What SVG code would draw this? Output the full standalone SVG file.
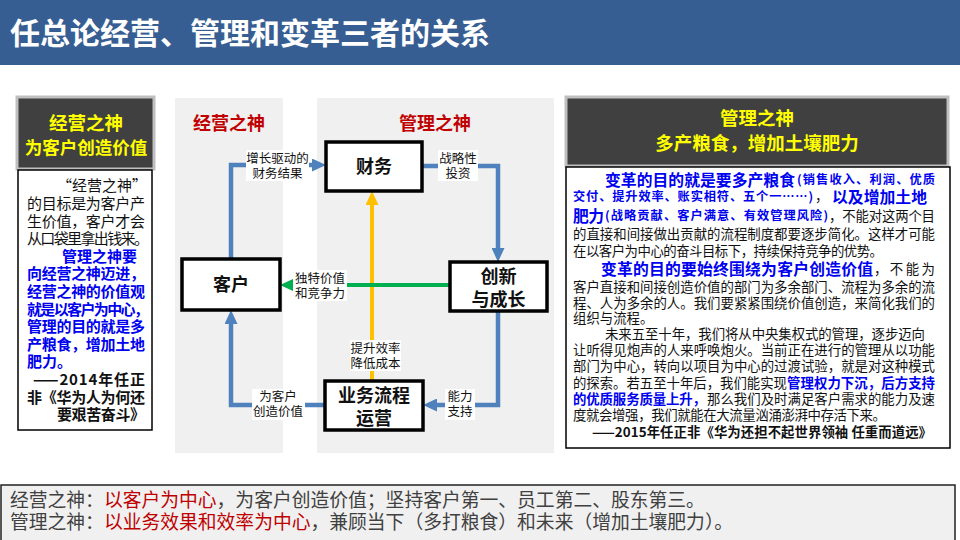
<svg xmlns="http://www.w3.org/2000/svg" width="960" height="540" viewBox="0 0 960 540">
<defs>
<style>
text{font-family:'Noto Sans CJK SC','Microsoft YaHei',sans-serif;}
.lbl{font-size:12.5px;fill:#111;text-anchor:middle;}
.node{font-size:18px;font-weight:bold;fill:#111;text-anchor:middle;}
.box{fill:#fff;stroke:#000;stroke-width:3.5;}
.hd{fill:#404040;stroke:#bfbfbf;stroke-width:3;}
.hdt{font-size:18px;font-weight:bold;fill:#ffff00;text-anchor:middle;}
.lt{font-size:15px;fill:#111;}
.lb{font-size:15px;fill:#0000f0;font-weight:bold;}
.lk{font-size:15px;fill:#111;font-weight:bold;}
.rt{font-size:13.4px;fill:#111;}
.rb{font-size:15.8px;fill:#0000f0;font-weight:bold;}
.rs{font-size:12.2px;fill:#0000f0;font-weight:bold;}
.rbb{font-size:13.4px;fill:#0000f0;font-weight:bold;}
.bt{font-size:18.8px;fill:#404040;}
.red{fill:#c00000;}
.blue{fill:none;stroke:#4f81bd;stroke-width:4.5;}
.lbg{fill:#fff;}
</style>
<marker id="ab" viewBox="0 0 14 13" refX="2" refY="6.5" markerWidth="14" markerHeight="13" markerUnits="userSpaceOnUse" orient="auto"><path d="M0,0 L14,6.5 L0,13 z" fill="#4f81bd"/></marker>
<marker id="ag" viewBox="0 0 14 13" refX="2" refY="6.5" markerWidth="14" markerHeight="13" markerUnits="userSpaceOnUse" orient="auto"><path d="M0,0 L14,6.5 L0,13 z" fill="#00b050"/></marker>
<marker id="ay" viewBox="0 0 14 13" refX="2" refY="6.5" markerWidth="14" markerHeight="13" markerUnits="userSpaceOnUse" orient="auto"><path d="M0,0 L14,6.5 L0,13 z" fill="#ffc000"/></marker>
</defs>
<rect width="960" height="540" fill="#fff"/>
<g id="title">
<rect x="0" y="0" width="960" height="65" fill="#375e92"/>
<text x="10" y="43.5" font-size="30" font-weight="bold" fill="#fff">任总论经营、管理和变革三者的关系</text>
</g>
<g id="left-panel">
<rect class="hd" x="17" y="97" width="137" height="72"/>
<text class="hdt" x="86" y="129.5" style="font-size:18.5px">经营之神</text>
<text class="hdt" x="86" y="154" style="font-size:17.5px">为客户创造价值</text>
<rect x="18" y="170" width="134" height="260" fill="#fff" stroke="#000" stroke-width="1.5"/>
<text class="lt" x="57" y="191.4">“经营之神”</text>
<text class="lt" x="27" y="209" textLength="118">的目标是为客户产</text>
<text class="lt" x="27" y="226.6" textLength="118">生价值，客户才会</text>
<text class="lt" x="27" y="244.2" textLength="122">从口袋里拿出钱来。</text>
<text class="lb" x="62" y="261.8">管理之神要</text>
<text class="lb" x="27" y="279.4" textLength="118">向经营之神迈进，</text>
<text class="lb" x="27" y="297" textLength="118">经营之神的价值观</text>
<text class="lb" x="27" y="314.6" textLength="122">就是以客户为中心，</text>
<text class="lb" x="27" y="332.2" textLength="118">管理的目的就是多</text>
<text class="lb" x="27" y="349.8" textLength="118">产粮食，增加土地</text>
<text class="lb" x="27" y="367.4">肥力。</text>
<text class="lk" x="33" y="385" textLength="112">——2014年任正</text>
<text class="lk" x="27" y="402.6" textLength="118">非《华为人为何还</text>
<text class="lk" x="57" y="420.2" textLength="88">要艰苦奋斗》</text>
</g>
<g id="panels">
<rect x="175" y="98" width="108" height="355" fill="#f0f0f0"/>
<rect x="317" y="98" width="237" height="355" fill="#f0f0f0"/>
<text x="229" y="129.5" font-size="18" font-weight="bold" fill="#c00000" text-anchor="middle">经营之神</text>
<text x="435" y="129.5" font-size="18" font-weight="bold" fill="#c00000" text-anchor="middle">管理之神</text>
</g>
<g id="connectors">
<path d="M372,381 V203" fill="none" stroke="#ffc000" stroke-width="4" marker-end="url(#ay)"/>
<path d="M450,285 H292" fill="none" stroke="#00b050" stroke-width="4" marker-end="url(#ag)"/>
<path class="blue" d="M231,259 V165 H314" marker-end="url(#ab)"/>
<path class="blue" d="M422,166 H498 V250" marker-end="url(#ab)"/>
<path class="blue" d="M498,311 V405 H435" marker-end="url(#ab)"/>
<path class="blue" d="M325,405 H231 V322" marker-end="url(#ab)"/>
<rect class="lbg" x="246" y="150" width="63" height="31"/>
<text class="lbl" x="277.5" y="162.5">增长驱动的</text>
<text class="lbl" x="277.5" y="177.5">财务结果</text>
<rect class="lbg" x="438" y="150" width="40" height="31"/>
<text class="lbl" x="458" y="162.5">战略性</text>
<text class="lbl" x="458" y="177.5">投资</text>
<rect class="lbg" x="293" y="270" width="54" height="31"/>
<text class="lbl" x="320" y="282.5">独特价值</text>
<text class="lbl" x="320" y="297.5">和竞争力</text>
<rect class="lbg" x="350" y="340" width="51" height="31"/>
<text class="lbl" x="375.5" y="352.5">提升效率</text>
<text class="lbl" x="375.5" y="367.5">降低成本</text>
<rect class="lbg" x="252" y="389" width="53" height="31"/>
<text class="lbl" x="278" y="400.5">为客户</text>
<text class="lbl" x="278" y="415.5">创造价值</text>
<rect class="lbg" x="445" y="389" width="30" height="31"/>
<text class="lbl" x="460" y="400.5">能力</text>
<text class="lbl" x="460" y="415.5">支持</text>
</g>
<g id="node-caiwu">
<rect class="box" x="326" y="142" width="96" height="49"/>
<text class="node" x="374" y="173">财务</text>
</g>
<g id="node-kehu">
<rect class="box" x="182" y="259" width="98" height="51"/>
<text class="node" x="231" y="291">客户</text>
</g>
<g id="node-chuangxin">
<rect class="box" x="450" y="262" width="97" height="49"/>
<text class="node" x="498.5" y="282.5">创新</text>
<text class="node" x="498.5" y="305.5">与成长</text>
</g>
<g id="node-yewu">
<rect class="box" x="325" y="381" width="98" height="49"/>
<text class="node" x="374" y="402">业务流程</text>
<text class="node" x="374" y="424.5">运营</text>
</g>
<g id="right-panel">
<rect class="hd" x="566" y="97" width="382" height="69"/>
<text class="hdt" x="757" y="124.5" style="font-size:18.5px">管理之神</text>
<text class="hdt" x="757" y="149.5" style="font-size:18.5px">多产粮食，增加土壤肥力</text>
<rect x="566" y="167" width="384" height="281" fill="#fff" stroke="#000" stroke-width="1.5"/>
<text class="rb" x="605" y="185.6" textLength="190">变革的目的就是要多产粮食</text>
<text class="rs" x="797" y="184.4" textLength="138">(销售收入、利润、优质</text>
<text class="rs" x="573" y="201.4" textLength="240">交付、提升效率、账实相符、五个一……)</text>
<text class="rt" x="815" y="201.4">，</text>
<text class="rb" x="832" y="202.6" textLength="95">以及增加土地</text>
<text class="rb" x="573" y="221.6" textLength="31">肥力</text>
<text class="rs" x="605" y="220.4" textLength="223">(战略贡献、客户满意、有效管理风险)</text>
<text class="rt" x="829" y="220.8" textLength="106">，不能对这两个目</text>
<text class="rt" x="573" y="238.8" textLength="362">的直接和间接做出贡献的流程制度都要逐步简化。这样才可能</text>
<text class="rt" x="573" y="255.8" textLength="310">在以客户为中心的奋斗目标下，持续保持竞争的优势。</text>
<text class="rb" x="601" y="274.6" textLength="272">变革的目的要始终围绕为客户创造价值</text>
<text class="rt" x="874" y="273.8" textLength="61">，不能为</text>
<text class="rt" x="573" y="291.8" textLength="362">客户直接和间接创造价值的部门为多余部门、流程为多余的流</text>
<text class="rt" x="573" y="307.8" textLength="362">程、人为多余的人。我们要紧紧围绕价值创造，来简化我们的</text>
<text class="rt" x="573" y="322.8">组织与流程。</text>
<text class="rt" x="605" y="338.8" textLength="320">未来五至十年，我们将从中央集权式的管理，逐步迈向</text>
<text class="rt" x="573" y="354.8" textLength="362">让听得见炮声的人来呼唤炮火。当前正在进行的管理从以功能</text>
<text class="rt" x="573" y="371.3" textLength="362">部门为中心，转向以项目为中心的过渡试验，就是对这种模式</text>
<text class="rt" x="573" y="387.8" textLength="214">的探索。若五至十年后，我们能实现</text>
<text class="rbb" x="787" y="387.8" textLength="148">管理权力下沉，后方支持</text>
<text class="rbb" x="573" y="403.8" textLength="133">的优质服务质量上升，</text>
<text class="rt" x="707" y="403.8" textLength="228">那么我们及时满足客户需求的能力及速</text>
<text class="rt" x="573" y="419.8" textLength="313">度就会增强，我们就能在大流量汹涌澎湃中存活下来。</text>
<text class="rt" x="592" y="436.6" font-weight="bold" textLength="340">——2015年任正非《华为还担不起世界领袖 任重而道远》</text>
</g>
<g id="summary">
<rect x="1" y="485" width="954" height="62" fill="#f0f0f0" stroke="#222" stroke-width="1.5"/>
<text class="bt" x="10" y="506.5">经营之神：<tspan class="red">以客户为中心</tspan>，为客户创造价值；坚持客户第一、员工第二、股东第三。</text>
<text class="bt" x="10" y="528.5">管理之神：<tspan class="red">以业务效果和效率为中心</tspan>，兼顾当下（多打粮食）和未来（增加土壤肥力）。</text>
</g>
</svg>
